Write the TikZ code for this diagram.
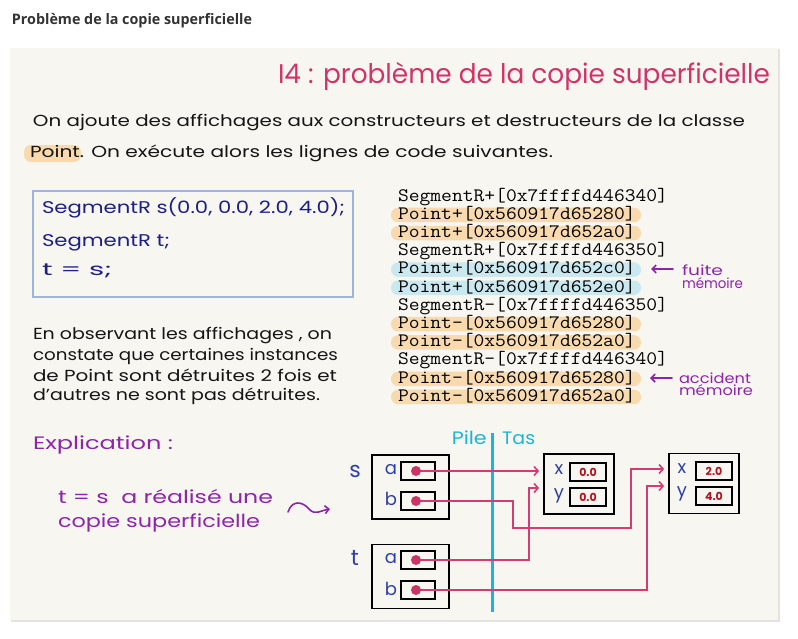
\documentclass[tikz,border=0pt]{standalone}
\usepackage{fontspec}
\usepackage{graphicx}
\setmainfont{Poppins}
\newfontfamily\hdrfont{Open Sans}
\usetikzlibrary{arrows.meta}
\definecolor{cardbg}{HTML}{F8F6F1}
\definecolor{shadowc}{HTML}{E4E2DE}
\definecolor{hdrc}{HTML}{333333}
\definecolor{titlec}{HTML}{CF3468}
\definecolor{inkc}{HTML}{151515}
\definecolor{navyc}{HTML}{1C1F86}
\definecolor{purplec}{HTML}{8E24AA}
\definecolor{bluec}{HTML}{2D40A8}
\definecolor{cyanc}{HTML}{1BB6D6}
\definecolor{codeborder}{HTML}{9CB7DB}
\definecolor{pillO}{HTML}{F8DAAE}
\definecolor{pillB}{HTML}{C9E8EF}
\definecolor{arrowc}{HTML}{D63A72}
\definecolor{dotc}{HTML}{CC3366}
\definecolor{valc}{HTML}{B0141E}
\newcommand\fw[2]{\resizebox{#1pt}{\height}{#2}}
\tikzset{
  txt/.style={anchor=base west, inner sep=0pt, outer sep=0pt},
  dumpline/.style={txt, text=black, font=\ttfamily\fontsize{19}{19}\selectfont},
  pillo/.style={fill=pillO, rounded corners=7pt},
  pillb/.style={fill=pillB, rounded corners=7pt},
  annot/.style={draw=purplec, line width=1.6pt, line cap=round, -{Straight Barb[length=4pt,width=8pt]}},
  varbox/.style={draw=black, line width=1.8pt, inner sep=0pt, minimum width=77pt, minimum height=64pt},
  slotbox/.style={draw=black, line width=1.6pt, inner sep=0pt, minimum width=34pt, minimum height=18pt},
  ptbox/.style={draw=black, line width=1.8pt, inner sep=0pt, minimum width=70pt, minimum height=60pt},
  valbox/.style={draw=black, line width=1.6pt, inner sep=0pt, minimum width=36pt, minimum height=18pt, text=valc, font=\bfseries\fontsize{11}{11}\selectfont},
  lbl/.style={inner sep=0pt, text=bluec, font=\fontsize{18}{18}\selectfont},
  dot/.style={circle, fill=dotc, inner sep=0pt, minimum size=10pt},
  ptr/.style={draw=arrowc, line width=1.6pt, -{Straight Barb[length=4pt,width=9pt]}},
}
\begin{document}
\begin{tikzpicture}[x=1pt,y=-1pt]
\useasboundingbox (0,0) rectangle (798,638);
\fill[white] (0,0) rectangle (798,638);
% header
\node[txt, text=hdrc, font=\hdrfont\bfseries\fontsize{14.5}{14.5}\selectfont] (hdr) at (12,24) {\fw{240}{Problème de la copie superficielle}};
% card
\fill[shadowc] (10.5,48.5) rectangle (779.5,622);
\fill[cardbg] (10,48) rectangle (778,620);
% title
\node[txt, text=titlec, font=\fontsize{27}{27}\selectfont] (title) at (278,83) {\fw{492}{I4 : problème de la copie superficielle}};
% intro
\fill[pillO, rounded corners=7pt] (24,145) rectangle (81,162);
\node[txt, text=inkc, font=\fontsize{16}{16}\selectfont] (intro1) at (33,126) {\fw{712}{On ajoute des affichages aux constructeurs et destructeurs de la classe}};
\node[txt, text=inkc, font=\fontsize{16}{16}\selectfont] (intro2) at (30,157) {\fw{523}{Point. On exécute alors les lignes de code suivantes.}};
% code box
\node[draw=codeborder, line width=1.6pt, minimum width=320pt, minimum height=106pt, inner sep=0pt] (codebox) at (193,244) {};
\node[txt, text=navyc, font=\fontsize{17}{17}\selectfont] (code1) at (42,213) {\fw{303}{SegmentR s(0.0, 0.0, 2.0, 4.0);}};
\node[txt, text=navyc, font=\fontsize{17}{17}\selectfont] (code2) at (42,246) {\fw{128}{SegmentR t;}};
\node[txt, text=navyc, font=\fontsize{17}{17}\selectfont] (code3) at (42,275) {\fw{70}{t = s;}};
% pills
\fill[pillo] (391,207.7) rectangle (641,222.2);
\fill[pillo] (391,225.9) rectangle (641,240.4);
\fill[pillb] (391,262.3) rectangle (641,276.8);
\fill[pillb] (391,280.5) rectangle (641,295);
\fill[pillo] (391,316.9) rectangle (641,331.4);
\fill[pillo] (391,335.1) rectangle (641,349.6);
\fill[pillo] (391,371.5) rectangle (641,386);
\fill[pillo] (391,389.7) rectangle (641,404.2);
% dump
\node[dumpline] (d1) at (398,201) {\fw{270}{SegmentR+[0x7ffffd446340]}};
\node[dumpline] (d2) at (398,219.2) {\fw{237.6}{Point+[0x560917d65280]}};
\node[dumpline] (d3) at (398,237.4) {\fw{237.6}{Point+[0x560917d652a0]}};
\node[dumpline] (d4) at (398,255.6) {\fw{270}{SegmentR+[0x7ffffd446350]}};
\node[dumpline] (d5) at (398,273.8) {\fw{237.6}{Point+[0x560917d652c0]}};
\node[dumpline] (d6) at (398,292) {\fw{237.6}{Point+[0x560917d652e0]}};
\node[dumpline] (d7) at (398,310.2) {\fw{270}{SegmentR-[0x7ffffd446350]}};
\node[dumpline] (d8) at (398,328.4) {\fw{237.6}{Point-[0x560917d65280]}};
\node[dumpline] (d9) at (398,346.6) {\fw{237.6}{Point-[0x560917d652a0]}};
\node[dumpline] (d10) at (398,364.8) {\fw{270}{SegmentR-[0x7ffffd446340]}};
\node[dumpline] (d11) at (398,383) {\fw{237.6}{Point-[0x560917d65280]}};
\node[dumpline] (d12) at (398,401.2) {\fw{237.6}{Point-[0x560917d652a0]}};
% annotations
\node[txt, text=purplec, font=\fontsize{14}{14}\selectfont] (fuite) at (682,275) {\fw{41}{fuite}};
\node[txt, text=purplec, font=\fontsize{14}{14}\selectfont] (mem1) at (682,288) {\fw{61}{mémoire}};
\node[txt, text=purplec, font=\fontsize{14}{14}\selectfont] (accident) at (679,383) {\fw{72}{accident}};
\node[txt, text=purplec, font=\fontsize{14}{14}\selectfont] (mem2) at (679,395.5) {\fw{74}{mémoire}};
\coordinate (fa0) at (673,269);
\coordinate (fa1) at (651,269);
\coordinate (aa0) at (672,378);
\coordinate (aa1) at (650,378);
\draw[annot] (fa0) -- (fa1);
\draw[annot] (aa0) -- (aa1);
% observation paragraph
\node[txt, text=inkc, font=\fontsize{16}{16}\selectfont] (obs1) at (33,339) {\fw{299}{En observant les affichages , on}};
\node[txt, text=inkc, font=\fontsize{16}{16}\selectfont] (obs2) at (33,360) {\fw{305}{constate que certaines instances}};
\node[txt, text=inkc, font=\fontsize{16}{16}\selectfont] (obs3) at (33,381) {\fw{304}{de Point sont détruites 2 fois et}};
\node[txt, text=inkc, font=\fontsize{16}{16}\selectfont] (obs4) at (33,400) {\fw{287}{d'autres ne sont pas détruites.}};
% explication
\node[txt, text=purplec, font=\fontsize{18}{18}\selectfont] (expl) at (33,449) {\fw{140}{Explication :}};
\node[txt, text=purplec, font=\fontsize{18}{18}\selectfont] (expl1) at (58,503) {\fw{215}{t = s\ \ a réalisé une}};
\node[txt, text=purplec, font=\fontsize{18}{18}\selectfont] (expl2) at (58,527) {\fw{202}{copie superficielle}};
\coordinate (sq0) at (288,512);
\coordinate (sq1) at (330,509);
\draw[annot] (sq0) .. controls (292,500) and (302,501) .. (309,509) .. controls (315,516) and (322,510) .. (sq1);
% stack / heap
\coordinate (cyTop) at (492,433);
\coordinate (cyBot) at (492,612);
\draw[cyanc, line width=3pt] (cyTop) -- (cyBot);
\node[anchor=base east, inner sep=0pt, text=cyanc, font=\fontsize{18}{18}\selectfont] (pile) at (487,444) {\fw{35}{Pile}};
\node[anchor=base west, inner sep=0pt, text=cyanc, font=\fontsize{18}{18}\selectfont] (tas) at (502,444) {\fw{33}{Tas}};
% variables
\node[varbox] (S) at (410.5,487) {};
\node[varbox] (T) at (410.5,576.5) {};
\node[lbl, font=\fontsize{22}{22}\selectfont] (sl) at (355,471) {s};
\node[lbl, font=\fontsize{22}{22}\selectfont] (tl) at (355,558) {t};
\node[slotbox] (sa) at (418,471) {};
\node[slotbox] (sb) at (418,501) {};
\node[slotbox] (ta) at (418,560) {};
\node[slotbox] (tb) at (418,590) {};
\node[lbl] (sal) at (391,470) {a};
\node[lbl] (sbl) at (391,499) {b};
\node[lbl] (tal) at (391,559) {a};
\node[lbl] (tbl) at (391,589) {b};
% points
\node[ptbox] (P1) at (579,484) {};
\node[ptbox] (P2) at (704,483.5) {};
\node[valbox] (p1x) at (588,472) {0.0};
\node[valbox] (p1y) at (588,497) {0.0};
\node[valbox] (p2x) at (714,471) {2.0};
\node[valbox] (p2y) at (714,496) {4.0};
\node[lbl] (p1xl) at (559,470) {x};
\node[lbl] (p1yl) at (559,496) {y};
\node[lbl] (p2xl) at (682,469) {x};
\node[lbl] (p2yl) at (682,494) {y};
% pointer origins
\coordinate (sac) at (416,471);
\coordinate (sbc) at (416,501);
\coordinate (tac) at (416,560);
\coordinate (tbc) at (416,590);
% pointers
\draw[ptr, shorten >=4pt] (sac) -- (sac -| P1.west);
\draw[ptr, shorten >=4pt] (tac) -| (529,488) -- (P1.west |- 0,488);
\draw[ptr, shorten >=4pt] (sbc) -- (513,501) |- (631,528) |- (P2.west |- 0,469);
\draw[ptr, shorten >=4pt] (tbc) -| (647,486) -- (P2.west |- 0,486);
% dots
\node[dot] (sad) at (sac) {};
\node[dot] (sbd) at (sbc) {};
\node[dot] (tad) at (tac) {};
\node[dot] (tbd) at (tbc) {};
\end{tikzpicture}
\end{document}
